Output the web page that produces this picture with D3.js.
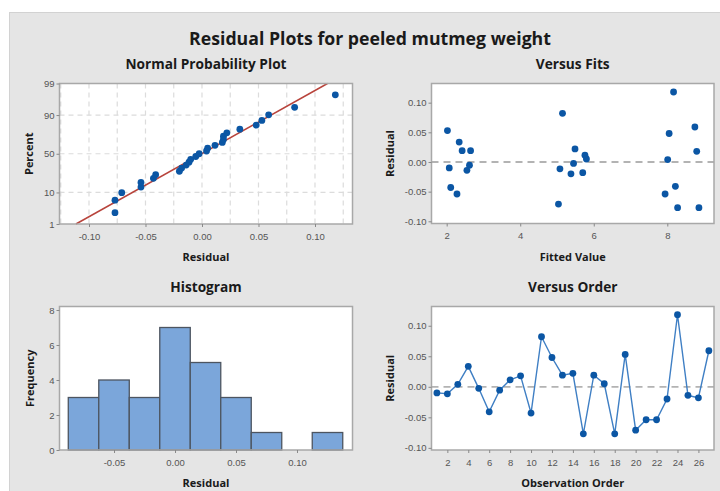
<!DOCTYPE html>
<html><head><meta charset="utf-8">
<script src="https://cdn.jsdelivr.net/npm/d3@7"></script>
<style>
html,body{margin:0;padding:0;background:#fff;}
svg{display:block;font-family:"Open Sans","Noto Sans",sans-serif;}
</style></head>
<body><svg id="c" width="720" height="491"></svg>
<script>
// ---- data ----
const observation = d3.range(1, 28);
const residuals = [-0.010, -0.0115, 0.004, 0.0335, -0.0025, -0.041, -0.0055, 0.0115, 0.018,
  -0.043, 0.082, 0.048, 0.019, 0.022, -0.077, 0.019, 0.005, -0.077, 0.053,
  -0.071, -0.054, -0.054, -0.020, 0.118, -0.014, -0.018, 0.059];
const fittedValues = [2.07, 5.08, 8.01, 2.34, 5.45, 8.22, 2.62, 5.76, 8.80,
  2.11, 5.15, 8.05, 2.42, 5.49, 8.28, 2.65, 5.80, 8.86, 2.02,
  5.04, 7.94, 2.28, 5.38, 8.17, 2.55, 5.70, 8.75];
const histBinEdges = [-0.0875, -0.0625, -0.0375, -0.0125, 0.0125, 0.0375, 0.0625, 0.0875, 0.1125, 0.1375];
const histCounts = [3, 4, 3, 7, 5, 3, 1, 0, 1];
const percentTicks = [1, 10, 50, 90, 99];
const npResidTicks = [-0.10, -0.05, 0.00, 0.05, 0.10];
const npGridResid = [-0.125, -0.10, -0.075, -0.05, -0.025, 0, 0.025, 0.05, 0.075, 0.10, 0.125];
const residTicks = [-0.10, -0.05, 0.00, 0.05, 0.10];
const fitTicks = [2, 4, 6, 8];
const histXTicks = [-0.05, 0.00, 0.05, 0.10];
const freqTicks = [0, 2, 4, 6, 8];
const orderTicks = [2, 4, 6, 8, 10, 12, 14, 16, 18, 20, 22, 24, 26];

const mainTitle = "Residual Plots for peeled mutmeg weight";

// ---- helpers ----
function probit(p) {
  const a=[-3.969683028665376e+01,2.209460984245205e+02,-2.759285104469687e+02,1.383577518672690e+02,-3.066479806614716e+01,2.506628277459239e+00];
  const b=[-5.447609879822406e+01,1.615858368580409e+02,-1.556989798598866e+02,6.680131188771201e+01,-1.328068155288572e+01];
  const c=[-7.784894002430293e-03,-3.223964580411365e-01,-2.400758277161838e+00,-2.549732539343734e+00,4.374664141464968e+00,2.938163982698783e+00];
  const d=[7.784695709041462e-03,3.224671290700398e-01,2.445134137142996e+00,3.754408661907416e+00];
  const pl=0.02425, ph=1-pl; let q,r;
  if (p<pl){q=Math.sqrt(-2*Math.log(p));return (((((c[0]*q+c[1])*q+c[2])*q+c[3])*q+c[4])*q+c[5])/((((d[0]*q+d[1])*q+d[2])*q+d[3])*q+1);}
  if (p>ph){q=Math.sqrt(-2*Math.log(1-p));return -(((((c[0]*q+c[1])*q+c[2])*q+c[3])*q+c[4])*q+c[5])/((((d[0]*q+d[1])*q+d[2])*q+d[3])*q+1);}
  q=p-0.5;r=q*q;return (((((a[0]*r+a[1])*r+a[2])*r+a[3])*r+a[4])*r+a[5])*q/(((((b[0]*r+b[1])*r+b[2])*r+b[3])*r+b[4])*r+1);
}
const fmt2 = v => d3.format(".2f")(v).replace("−", "-");

const svg = d3.select("#c");
const BLUE = "#0b56a4", LINEBLUE = "#3f7fc4", FRAME = "#a8a8a8", TICKC = "#555";

svg.append("rect").attr("x", 9.5).attr("y", 12.5).attr("width", 712).attr("height", 480)
  .attr("fill", "#e5e5e5").attr("stroke", "#d2d2d2");

svg.append("text").attr("x", 370).attr("y", 45).attr("text-anchor", "middle")
  .attr("font-size", 17.7).attr("font-weight", 700).attr("fill", "#1a1a1a").text(mainTitle);

function panel(box, title, xLabel, yLabel, yOff) {
  const g = svg.append("g");
  g.append("rect").attr("x", box.l).attr("y", box.t).attr("width", box.r - box.l).attr("height", box.b - box.t)
    .attr("fill", "#fff");
  g.append("text").attr("x", (box.l + box.r) / 2).attr("y", box.t - 15).attr("text-anchor", "middle")
    .attr("font-size", 13.7).attr("font-weight", 700).attr("fill", "#1a1a1a").text(title);
  g.append("text").attr("x", (box.l + box.r) / 2).attr("y", box.b + 37).attr("text-anchor", "middle")
    .attr("font-size", 11).attr("font-weight", 700).attr("fill", "#1a1a1a").text(xLabel);
  g.append("text").attr("transform", `translate(${box.l - yOff},${(box.t + box.b) / 2}) rotate(-90)`)
    .attr("text-anchor", "middle").attr("font-size", 11).attr("font-weight", 700).attr("fill", "#1a1a1a").text(yLabel);
  return g;
}
function frame(g, box) {
  g.append("rect").attr("x", box.l).attr("y", box.t).attr("width", box.r - box.l).attr("height", box.b - box.t)
    .attr("fill", "none").attr("stroke", FRAME).attr("stroke-width", 1.5);
}
function styleAxis(sel) {
  sel.select(".domain").remove();
  sel.selectAll(".tick line").attr("stroke", "#888");
  sel.selectAll(".tick text").attr("fill", TICKC).attr("font-size", 9.5);
}
function axes(g, box, x, y, xt, yt, xf, yf) {
  g.append("g").attr("transform", `translate(0,${box.b})`)
    .call(d3.axisBottom(x).tickValues(xt).tickFormat(xf).tickSize(3).tickPadding(6)).call(styleAxis);
  g.append("g").attr("transform", `translate(${box.l},0)`)
    .call(d3.axisLeft(y).tickValues(yt).tickFormat(yf).tickSize(3).tickPadding(2)).call(styleAxis);
}

// ---- Normal probability plot ----
{
  const box = {l: 59.5, r: 352.5, t: 83.5, b: 224};
  const g = panel(box, "Normal Probability Plot", "Residual", "Percent", 27);
  const x = d3.scaleLinear().domain([-0.1261, 0.1332]).range([box.l, box.r]);
  const y = d3.scaleLinear().domain([probit(0.01), probit(0.99)]).range([box.b, box.t]);
  const grid = g.append("g").attr("stroke", "#dcdcdc").attr("stroke-width", 1.2).attr("stroke-dasharray", "5,4");
  npGridResid.forEach(v => grid.append("line").attr("x1", x(v)).attr("x2", x(v)).attr("y1", box.t).attr("y2", box.b));
  [10, 50, 90].forEach(p => grid.append("line").attr("x1", box.l).attr("x2", box.r).attr("y1", y(probit(p / 100))).attr("y2", y(probit(p / 100))));
  const n = residuals.length;
  const sorted = residuals.slice().sort(d3.ascending);
  const mu = d3.mean(residuals), sd = d3.deviation(residuals);
  const zLo = probit(0.01), zHi = probit(0.99);
  g.append("line").attr("x1", x(mu + sd * zLo)).attr("y1", y(zLo)).attr("x2", x(mu + sd * zHi)).attr("y2", y(zHi))
    .attr("stroke", "#b8443c").attr("stroke-width", 1.5);
  g.append("g").selectAll("circle").data(sorted).join("circle")
    .attr("cx", d => x(d)).attr("cy", (d, i) => y(probit((i + 1 - 0.3) / (n + 0.4))))
    .attr("r", 3.4).attr("fill", BLUE);
  frame(g, box);
  axes(g, box, x, y, npResidTicks, percentTicks.map(p => probit(p / 100)), fmt2,
    (d, i) => String(percentTicks[i]));
}

// ---- Versus Fits ----
{
  const box = {l: 431.5, r: 714, t: 83.5, b: 223.5};
  const g = panel(box, "Versus Fits", "Fitted Value", "Residual", 38);
  const x = d3.scaleLinear().domain([1.587, 9.27]).range([box.l, box.r]);
  const y = d3.scaleLinear().domain([-0.1037, 0.1323]).range([box.b, box.t]);
  g.append("line").attr("x1", box.l).attr("x2", box.r).attr("y1", y(0)).attr("y2", y(0))
    .attr("stroke", "#b3b3b3").attr("stroke-width", 1.8).attr("stroke-dasharray", "7,5");
  g.append("g").selectAll("circle").data(residuals).join("circle")
    .attr("cx", (d, i) => x(fittedValues[i])).attr("cy", d => y(d)).attr("r", 3.4).attr("fill", BLUE);
  frame(g, box);
  axes(g, box, x, y, fitTicks, residTicks, d3.format("d"), fmt2);
}

// ---- Histogram ----
{
  const box = {l: 59.5, r: 352.5, t: 306.5, b: 450};
  const g = panel(box, "Histogram", "Residual", "Frequency", 26);
  const x = d3.scaleLinear().domain([-0.0947, 0.1455]).range([box.l, box.r]);
  const y = d3.scaleLinear().domain([0, 8.2]).range([box.b, box.t]);
  g.append("g").selectAll("rect").data(histCounts).join("rect")
    .attr("x", (d, i) => x(histBinEdges[i])).attr("width", (d, i) => x(histBinEdges[i + 1]) - x(histBinEdges[i]))
    .attr("y", d => y(d)).attr("height", d => y(0) - y(d))
    .attr("fill", "#7ba6da").attr("stroke", "#4d5560").attr("stroke-width", d => d > 0 ? 1.3 : 0);
  frame(g, box);
  axes(g, box, x, y, histXTicks, freqTicks, fmt2, d3.format("d"));
}

// ---- Versus Order ----
{
  const box = {l: 431.5, r: 714, t: 306.5, b: 450};
  const g = panel(box, "Versus Order", "Observation Order", "Residual", 38);
  const x = d3.scaleLinear().domain([0.484, 27.49]).range([box.l, box.r]);
  const y = d3.scaleLinear().domain([-0.1035, 0.1315]).range([box.b, box.t]);
  g.append("line").attr("x1", box.l).attr("x2", box.r).attr("y1", y(0)).attr("y2", y(0))
    .attr("stroke", "#b3b3b3").attr("stroke-width", 1.8).attr("stroke-dasharray", "7,5");
  g.append("path").datum(residuals)
    .attr("d", d3.line().x((d, i) => x(observation[i])).y(d => y(d)))
    .attr("fill", "none").attr("stroke", LINEBLUE).attr("stroke-width", 1.4);
  g.append("g").selectAll("circle").data(residuals).join("circle")
    .attr("cx", (d, i) => x(observation[i])).attr("cy", d => y(d)).attr("r", 3.4).attr("fill", BLUE);
  frame(g, box);
  axes(g, box, x, y, orderTicks, residTicks, d3.format("d"), fmt2);
}
</script></body></html>
